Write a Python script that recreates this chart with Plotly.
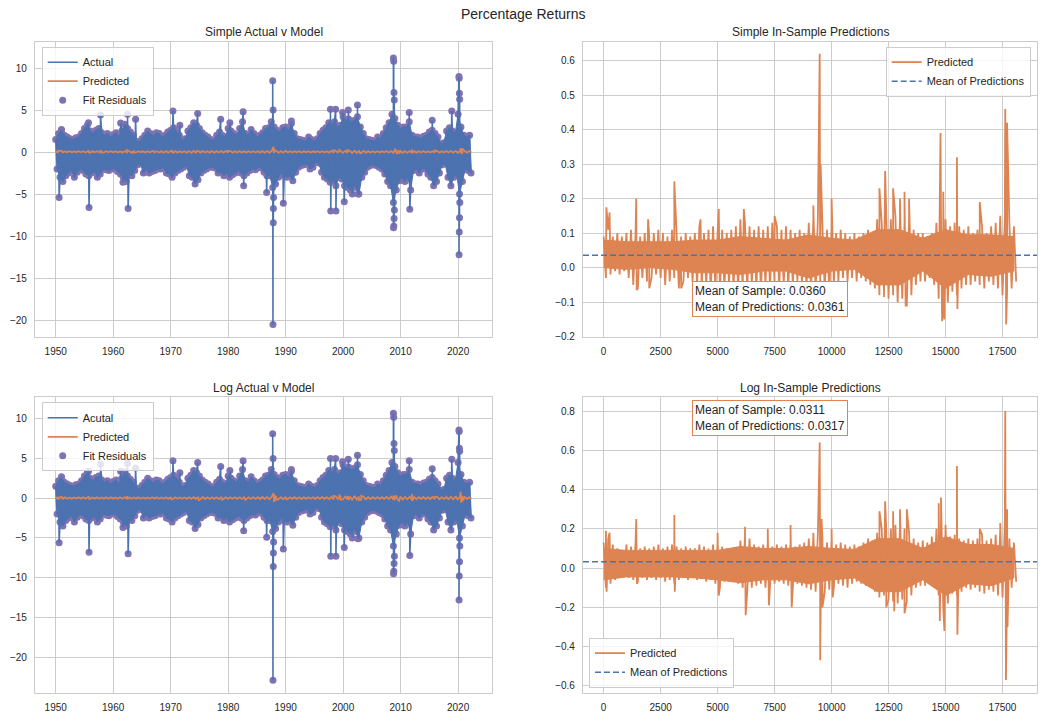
import plotly.graph_objects as go

BLUE = "#4c72b0"
ORANGE = "#dd8452"
PURPLE = "#8172b3"
TEXT = "#262626"
GRID = "#cccccc"
FONT = "Liberation Sans, Arial, sans-serif"

# ---------------- data: actual daily % returns (read envelope, every half year) ----------------
band_start_year = 1950.0
band_step = 0.5
band_hi = [1.5, 2.2, 2.6, 2.0, 1.8, 1.6, 1.5, 1.7, 1.8, 2.2,
           2.8, 3.2, 2.5, 2.2, 2.6, 2.8, 2.3, 2.0, 2.2, 1.8,
           2.1, 2.3, 1.8, 2.5, 3.3, 2.8, 2.4, 2.0, 1.3, 1.2,
           1.6, 2.0, 2.5, 2.2, 1.9, 2.3, 2.2, 1.8, 2.0, 2.4,
           2.6, 2.9, 2.5, 2.0, 1.4, 1.6, 2.5, 2.9, 3.5, 3.2,
           2.8, 2.3, 2.0, 1.8, 1.5, 1.4, 2.0, 2.4, 2.0, 1.8,
           2.8, 2.5, 2.2, 2.0, 2.8, 3.6, 2.2, 2.0, 2.7, 2.2,
           1.8, 2.0, 2.3, 2.8, 2.9, 3.6, 3.0, 2.6, 2.4, 2.9,
           3.0, 2.6, 3.4, 2.2, 1.6, 1.5, 1.4, 1.3, 1.8, 1.5,
           1.3, 1.6, 2.2, 2.6, 2.9, 3.5, 3.2, 3.6, 3.0, 3.2,
           4.2, 3.8, 3.9, 3.6, 3.8, 4.2, 3.0, 2.2, 1.6, 1.5,
           1.4, 1.3, 1.8, 1.6, 2.2, 2.9, 3.5, 4.5, 4.0, 3.2,
           2.8, 3.0, 3.0, 3.6, 2.0, 1.8, 1.8, 1.6, 1.9, 2.0,
           2.4, 2.6, 2.2, 1.8, 1.0, 1.1, 2.5, 2.9, 2.5, 2.2,
           4.5, 3.0, 2.0, 1.8, 2.0]
band_lo = [-2.0, -3.0, -3.5, -2.8, -2.5, -2.2, -3.0, -2.4, -2.0, -2.2,
           -2.6, -2.8, -2.5, -2.3, -3.0, -2.6, -2.0, -2.1, -2.2, -2.0,
           -2.0, -2.3, -2.6, -3.0, -3.5, -2.7, -2.8, -2.2, -1.5, -1.4,
           -2.5, -2.0, -2.5, -2.3, -2.2, -2.0, -2.0, -1.8, -2.5, -2.6,
           -3.0, -2.5, -2.2, -2.0, -1.8, -1.6, -2.8, -3.0, -3.8, -3.3,
           -2.5, -2.2, -2.0, -1.8, -1.8, -1.9, -2.5, -2.4, -2.8, -2.5,
           -3.0, -2.7, -2.5, -2.2, -2.5, -2.8, -2.5, -2.2, -2.0, -2.1,
           -1.8, -1.9, -2.4, -2.8, -2.8, -4.2, -3.8, -3.0, -2.5, -2.8,
           -3.0, -2.8, -3.4, -2.4, -1.8, -1.6, -1.5, -1.4, -2.0, -1.8,
           -1.2, -1.3, -2.4, -3.0, -3.2, -3.6, -3.4, -4.0, -3.0, -3.2,
           -4.0, -4.2, -4.5, -3.8, -4.2, -5.0, -3.0, -2.4, -1.8, -1.6,
           -1.5, -1.6, -1.8, -2.0, -2.6, -3.5, -4.0, -6.0, -4.5, -3.4,
           -3.0, -3.5, -3.0, -4.5, -2.2, -2.0, -2.5, -2.0, -2.0, -2.6,
           -3.0, -4.0, -3.5, -2.5, -1.5, -1.4, -3.0, -4.0, -3.0, -2.6,
           -5.0, -3.5, -2.0, -2.2, -2.5]

spike_years = [1950.6, 1951.0, 1955.7, 1955.8, 1957.8, 1961.3, 1961.7, 1962.5, 1962.6, 1963.9,
               1970.4, 1971.6, 1974.7, 1978.7, 1980.3, 1982.6, 1982.7, 1986.7, 1987.75, 1987.8,
               1987.82, 1987.85, 1987.87, 1987.9, 1989.6, 1991.0, 1997.8, 1997.85, 1998.7, 1998.75,
               1999.9, 2000.2, 2000.9, 2001.6, 2002.5, 2002.6, 2008.75, 2008.77, 2008.8, 2008.82,
               2008.85, 2008.87, 2008.9, 2008.92, 2011.5, 2011.6, 2015.5, 2018.9, 2020.15, 2020.17,
               2020.19, 2020.21, 2020.23, 2020.25, 2020.27, 2020.3]
spike_simple = [-5.4, 2.7, 3.5, -6.6, 4.4, 3.45, -3.6, 4.5, -6.7, 3.9,
                4.9, 3.2, 4.6, 3.9, 3.5, 4.8, -4.0, -4.8, 8.5, -20.5,
                5.0, -8.4, -6.7, -5.4, -6.1, 3.7, 5.1, -7.0, 5.1, -7.0,
                4.7, -5.9, 5.0, -5.0, 5.6, -5.0, 11.2, -9.0, 10.8, -8.8,
                7.1, -7.9, 6.2, -6.9, 4.7, -6.8, 3.8, 4.9, 9.0, -12.2,
                8.8, -9.5, 7.0, -7.8, 6.3, -6.0]
spike_log = [-5.6, 2.7, 3.4, -6.8, 4.3, 3.4, -3.7, 4.4, -7.0, 3.8,
             4.7, 3.2, 4.5, 4.0, 3.5, 4.7, -4.1, -4.9, 8.1, -22.9,
             5.0, -8.6, -6.9, -5.5, -6.4, 3.6, 5.0, -7.3, 5.0, -7.3,
             4.6, -6.2, 4.9, -5.0, 5.4, -5.1, 10.7, -9.5, 10.2, -9.2,
             6.9, -8.2, 6.0, -7.3, 4.7, -7.2, 3.7, 4.9, 8.6, -12.8,
             8.4, -9.8, 6.3, -8.0, 5.9, -6.0]

# ---------------- data: in-sample predictions (envelope every 200 obs) ----------------
pred_step = 200
pred_simple_hi = [0.09, 0.11, 0.09, 0.10, 0.09, 0.10, 0.11, 0.10, 0.09, 0.10,
                  0.09, 0.10, 0.11, 0.10, 0.09, 0.11, 0.10, 0.09, 0.10, 0.09,
                  0.10, 0.12, 0.10, 0.11, 0.12, 0.10, 0.11, 0.10, 0.11, 0.12,
                  0.14, 0.13, 0.12, 0.11, 0.12, 0.11, 0.12, 0.13, 0.12, 0.11,
                  0.12, 0.11, 0.10, 0.11, 0.10, 0.13, 0.14, 0.15, 0.12, 0.11,
                  0.12, 0.10, 0.11, 0.10, 0.09, 0.10, 0.09, 0.10, 0.11, 0.10,
                  0.14, 0.13, 0.15, 0.14, 0.15, 0.14, 0.13, 0.14, 0.11, 0.10,
                  0.10, 0.09, 0.10, 0.13, 0.15, 0.14, 0.12, 0.13, 0.12, 0.11,
                  0.12, 0.10, 0.11, 0.12, 0.10, 0.12, 0.13, 0.15, 0.14, 0.13,
                  0.12]
pred_simple_lo = [-0.03, -0.02, -0.01, -0.02, -0.01, -0.03, -0.05, -0.06, -0.03, -0.04,
                  -0.03, -0.02, -0.03, -0.05, -0.04, -0.03, -0.06, -0.04, -0.03, -0.04,
                  -0.05, -0.06, -0.05, -0.07, -0.06, -0.08, -0.06, -0.05, -0.06, -0.07,
                  -0.07, -0.06, -0.05, -0.06, -0.07, -0.05, -0.06, -0.05, -0.06, -0.05,
                  -0.06, -0.05, -0.04, -0.05, -0.06, -0.07, -0.08, -0.10, -0.07, -0.08,
                  -0.05, -0.04, -0.03, -0.04, -0.03, -0.04, -0.03, -0.04, -0.05, -0.06,
                  -0.08, -0.07, -0.09, -0.08, -0.10, -0.09, -0.11, -0.08, -0.05, -0.04,
                  -0.04, -0.03, -0.05, -0.09, -0.12, -0.10, -0.07, -0.08, -0.06, -0.05,
                  -0.05, -0.04, -0.05, -0.06, -0.04, -0.05, -0.06, -0.08, -0.07, -0.06,
                  -0.04]
pred_simple_spike_idx = [120, 260, 1430, 1450, 1950, 2000, 3100, 3400, 4250, 5050,
                         6150, 7500, 9200, 9480, 9520, 10000, 12100, 12300, 12350, 12700,
                         13000, 13200, 13250, 13400, 14780, 14850, 14900, 14950, 15500, 15520,
                         16500, 17620, 17660, 17700]
pred_simple_spike_val = [0.175, 0.16, 0.20, -0.065, 0.14, -0.06, 0.25, -0.06, 0.14, 0.17,
                         0.17, 0.15, 0.18, 0.62, 0.30, 0.20, 0.23, -0.085, 0.28, 0.23,
                         0.20, 0.22, -0.11, 0.20, 0.39, -0.155, 0.22, -0.15, 0.32, -0.12,
                         0.19, 0.46, -0.165, 0.42]

pred_log_hi = [0.13, 0.15, 0.12, 0.10, 0.09, 0.12, 0.11, 0.13, 0.10, 0.11,
               0.10, 0.11, 0.12, 0.10, 0.11, 0.12, 0.11, 0.10, 0.11, 0.10,
               0.10, 0.12, 0.11, 0.10, 0.12, 0.13, 0.11, 0.10, 0.09, 0.10,
               0.14, 0.16, 0.15, 0.12, 0.11, 0.12, 0.13, 0.11, 0.12, 0.11,
               0.12, 0.13, 0.11, 0.12, 0.13, 0.15, 0.16, 0.18, 0.15, 0.13,
               0.14, 0.12, 0.13, 0.12, 0.11, 0.12, 0.11, 0.13, 0.15, 0.14,
               0.18, 0.20, 0.19, 0.20, 0.22, 0.21, 0.20, 0.18, 0.15, 0.13,
               0.14, 0.13, 0.16, 0.20, 0.25, 0.22, 0.16, 0.17, 0.15, 0.14,
               0.15, 0.14, 0.15, 0.17, 0.14, 0.15, 0.17, 0.20, 0.22, 0.15,
               0.13]
pred_log_lo = [-0.10, -0.08, -0.06, -0.05, -0.04, -0.05, -0.06, -0.07, -0.05, -0.06,
               -0.05, -0.06, -0.05, -0.07, -0.06, -0.08, -0.06, -0.05, -0.06, -0.05,
               -0.06, -0.05, -0.07, -0.06, -0.08, -0.10, -0.07, -0.06, -0.07, -0.08,
               -0.10, -0.12, -0.10, -0.09, -0.08, -0.10, -0.09, -0.08, -0.07, -0.08,
               -0.09, -0.10, -0.08, -0.09, -0.10, -0.11, -0.12, -0.14, -0.12, -0.11,
               -0.10, -0.08, -0.09, -0.10, -0.08, -0.07, -0.08, -0.09, -0.10, -0.12,
               -0.15, -0.14, -0.16, -0.17, -0.18, -0.16, -0.17, -0.14, -0.10, -0.09,
               -0.09, -0.08, -0.10, -0.14, -0.20, -0.18, -0.13, -0.14, -0.12, -0.10,
               -0.11, -0.10, -0.12, -0.13, -0.11, -0.12, -0.14, -0.15, -0.13, -0.10,
               -0.07]
pred_log_spike_idx = [100, 130, 260, 1430, 1460, 3100, 3120, 5000, 5050, 6200,
                      6230, 7200, 7250, 8200, 8250, 9200, 9480, 9500, 9560, 9600,
                      10000, 10050, 12100, 12350, 12400, 12700, 12750, 13000, 13200, 13300,
                      14700, 14750, 14800, 14950, 15500, 15520, 16500, 17400, 17620, 17650,
                      17700, 17720]
pred_log_spike_val = [0.19, -0.12, 0.18, 0.25, -0.08, 0.27, -0.12, 0.18, -0.14, 0.21,
                      -0.24, 0.20, -0.19, 0.22, -0.20, 0.18, 0.64, -0.47, 0.25, -0.20,
                      0.20, -0.15, 0.29, 0.34, -0.20, 0.29, -0.22, 0.30, -0.23, 0.30,
                      0.33, -0.27, 0.36, -0.32, 0.52, -0.34, 0.20, 0.23, 0.80, -0.57,
                      0.30, -0.30]
# solid core of the prediction bands (every 1000 obs)
pred_core_step = 1000
pred_simple_core_hi = [0.08, 0.075, 0.075, 0.075, 0.08, 0.08, 0.09, 0.085, 0.08, 0.095,
                       0.085, 0.08, 0.11, 0.11, 0.085, 0.11, 0.095, 0.095, 0.09]
pred_simple_core_lo = [0.0, -0.005, 0.0, -0.005, -0.015, -0.015, -0.02, -0.01, -0.01, -0.03,
                       -0.01, -0.005, -0.05, -0.05, -0.01, -0.06, -0.02, -0.025, -0.01]
pred_log_core_hi = [0.10, 0.09, 0.09, 0.09, 0.09, 0.09, 0.11, 0.10, 0.10, 0.11,
                    0.10, 0.095, 0.15, 0.15, 0.10, 0.16, 0.12, 0.12, 0.10]
pred_log_core_lo = [-0.06, -0.045, -0.045, -0.045, -0.05, -0.06, -0.075, -0.06, -0.06, -0.08,
                    -0.06, -0.05, -0.12, -0.12, -0.06, -0.14, -0.08, -0.09, -0.05]

mean_sample_simple, mean_pred_simple = 0.0360, 0.0361
mean_sample_log, mean_pred_log = 0.0311, 0.0317
obs_per_year = 250.2

for a, b in [(band_hi, band_lo), (spike_years, spike_simple), (spike_years, spike_log),
             (pred_simple_hi, pred_simple_lo), (pred_log_hi, pred_log_lo),
             (pred_simple_core_hi, pred_simple_core_lo), (pred_log_core_hi, pred_log_core_lo),
             (pred_simple_spike_idx, pred_simple_spike_val), (pred_log_spike_idx, pred_log_spike_val)]:
    assert len(a) == len(b), (len(a), len(b))


def series(x0, step, hi, lo, sx, sy):
    """Daily-looking series: envelope highs/lows interleaved, plus the isolated spikes."""
    pts = []
    for k, (h, l) in enumerate(zip(hi, lo)):
        pts.append((x0 + k * step, h))
        pts.append((x0 + k * step + step / 2, l))
    pts += list(zip(sx, sy))
    pts.sort(key=lambda p: p[0])
    return [p[0] for p in pts], [p[1] for p in pts]


def envelope(x0, step, hi, lo, offset):
    """Closed polygon of the area that the many daily strokes cover."""
    xh = [x0 + k * step for k in range(len(hi))]
    xl = [x0 + k * step + offset for k in range(len(lo))]
    return xh + xl[::-1], list(hi) + list(lo)[::-1]


act_s_x, act_s_y = series(band_start_year, band_step, band_hi, band_lo, spike_years, spike_simple)
act_l_x, act_l_y = series(band_start_year, band_step, band_hi, band_lo, spike_years, spike_log)
env_a_x, env_a_y = envelope(band_start_year, band_step, band_hi, band_lo, band_step / 2)
ps_x, ps_y = series(0, pred_step, pred_simple_hi, pred_simple_lo, pred_simple_spike_idx, pred_simple_spike_val)
pl_x, pl_y = series(0, pred_step, pred_log_hi, pred_log_lo, pred_log_spike_idx, pred_log_spike_val)
core_ps_x, core_ps_y = envelope(0, pred_core_step, pred_simple_core_hi, pred_simple_core_lo, 0)
core_pl_x, core_pl_y = envelope(0, pred_core_step, pred_log_core_hi, pred_log_core_lo, 0)
ps_years = [band_start_year + i / obs_per_year for i in ps_x]
pl_years = [band_start_year + i / obs_per_year for i in pl_x]

# ---------------- figure ----------------
W, H = 1046, 720
def px_x(a, b):
    return [a / W, b / W]
def px_y(top, bottom):
    return [1 - bottom / H, 1 - top / H]

left_dom = px_x(35, 492)
right_dom = px_x(583, 1037.3)
top_dom = px_y(42, 337)
bot_dom = px_y(397.3, 693.3)

year_range = [1946.4, 2025.9]
idx_range = [-906, 19026]

def line(color, width, dash=None):
    d = dict(color=color, width=width, simplify=False)
    if dash:
        d["dash"] = dash
    return d

def band_fill(x, y, color, xa, ya):
    return go.Scatter(x=x, y=y, mode="lines", fill="toself", fillcolor=color,
                      line=dict(color=color, width=1), showlegend=False, hoverinfo="skip",
                      xaxis=xa, yaxis=ya)

fig = go.Figure()

# Top-left
fig.add_trace(go.Scatter(x=act_s_x, y=act_s_y, mode="markers", name="Fit Residuals",
                         marker=dict(color=PURPLE, size=7), xaxis="x", yaxis="y",
                         legend="legend", legendrank=3))
fig.add_trace(band_fill(env_a_x, env_a_y, BLUE, "x", "y"))
fig.add_trace(go.Scatter(x=act_s_x, y=act_s_y, mode="lines", name="Actual",
                         line=line(BLUE, 1.6), xaxis="x", yaxis="y",
                         legend="legend", legendrank=1))
fig.add_trace(go.Scatter(x=ps_years, y=ps_y, mode="lines", name="Predicted",
                         line=line(ORANGE, 1.8), xaxis="x", yaxis="y",
                         legend="legend", legendrank=2))
# Top-right
fig.add_trace(band_fill(core_ps_x, core_ps_y, ORANGE, "x2", "y2"))
fig.add_trace(go.Scatter(x=ps_x, y=ps_y, mode="lines", name="Predicted",
                         line=line(ORANGE, 1.8), xaxis="x2", yaxis="y2",
                         legend="legend2", legendrank=1))
fig.add_trace(go.Scatter(x=idx_range, y=[mean_pred_simple] * 2, mode="lines", name="Mean of Predictions",
                         line=line(BLUE, 1.5, "6px,3px"), xaxis="x2", yaxis="y2",
                         legend="legend2", legendrank=2))
# Bottom-left
fig.add_trace(go.Scatter(x=act_l_x, y=act_l_y, mode="markers", name="Fit Residuals",
                         marker=dict(color=PURPLE, size=7), xaxis="x3", yaxis="y3",
                         legend="legend3", legendrank=3))
fig.add_trace(band_fill(env_a_x, env_a_y, BLUE, "x3", "y3"))
fig.add_trace(go.Scatter(x=act_l_x, y=act_l_y, mode="lines", name="Acutal",
                         line=line(BLUE, 1.6), xaxis="x3", yaxis="y3",
                         legend="legend3", legendrank=1))
fig.add_trace(go.Scatter(x=pl_years, y=pl_y, mode="lines", name="Predicted",
                         line=line(ORANGE, 1.8), xaxis="x3", yaxis="y3",
                         legend="legend3", legendrank=2))
# Bottom-right
fig.add_trace(band_fill(core_pl_x, core_pl_y, ORANGE, "x4", "y4"))
fig.add_trace(go.Scatter(x=pl_x, y=pl_y, mode="lines", name="Predicted",
                         line=line(ORANGE, 1.8), xaxis="x4", yaxis="y4",
                         legend="legend4", legendrank=1))
fig.add_trace(go.Scatter(x=idx_range, y=[mean_pred_log] * 2, mode="lines", name="Mean of Predictions",
                         line=line(BLUE, 1.5, "6px,3px"), xaxis="x4", yaxis="y4",
                         legend="legend4", legendrank=2))

axis_common = dict(showgrid=True, gridcolor=GRID, gridwidth=1, showline=True, linecolor=GRID,
                   linewidth=1.25, mirror=True, zeroline=False, ticks="outside", ticklen=5,
                   tickcolor="rgba(0,0,0,0)", tickfont=dict(size=10, color=TEXT, family=FONT),
                   automargin=False)

fig.update_layout(
    width=W, height=H, margin=dict(l=0, r=0, t=0, b=0),
    paper_bgcolor="white", plot_bgcolor="white",
    font=dict(family=FONT, color=TEXT),
    xaxis=dict(domain=left_dom, anchor="y", range=year_range, tickvals=[1950, 1960, 1970, 1980, 1990, 2000, 2010, 2020], **axis_common),
    yaxis=dict(domain=top_dom, anchor="x", range=[-22.0, 13.1], tickvals=[-20, -15, -10, -5, 0, 5, 10], **axis_common),
    xaxis2=dict(domain=right_dom, anchor="y2", range=idx_range, dtick=2500, tickformat="d", **axis_common),
    yaxis2=dict(domain=top_dom, anchor="x2", range=[-0.201, 0.654], dtick=0.1, tickformat=".1f", **axis_common),
    xaxis3=dict(domain=left_dom, anchor="y3", range=year_range, tickvals=[1950, 1960, 1970, 1980, 1990, 2000, 2010, 2020], **axis_common),
    yaxis3=dict(domain=bot_dom, anchor="x3", range=[-24.55, 12.7], tickvals=[-20, -15, -10, -5, 0, 5, 10], **axis_common),
    xaxis4=dict(domain=right_dom, anchor="y4", range=idx_range, dtick=2500, tickformat="d", **axis_common),
    yaxis4=dict(domain=bot_dom, anchor="x4", range=[-0.638, 0.87], dtick=0.2, tickformat=".1f", **axis_common),
)

legend_style = dict(bgcolor="rgba(255,255,255,0.8)", bordercolor=GRID, borderwidth=1,
                    font=dict(size=11, color=TEXT, family=FONT), tracegroupgap=0)
fig.update_layout(
    legend=dict(x=41.7 / W, y=1 - 46.7 / H, xanchor="left", yanchor="top", **legend_style),
    legend2=dict(x=1030.7 / W, y=1 - 46.7 / H, xanchor="right", yanchor="top", **legend_style),
    legend3=dict(x=41.7 / W, y=1 - 402.3 / H, xanchor="left", yanchor="top", **legend_style),
    legend4=dict(x=589 / W, y=1 - 687.7 / H, xanchor="left", yanchor="bottom", **legend_style),
)

titles = [("Percentage Returns", 0.5, 1 - 14 / H, 14),
          ("Simple Actual v Model", (35 + 492) / 2 / W, 1 - 32 / H, 12),
          ("Simple In-Sample Predictions", (583 + 1037.3) / 2 / W, 1 - 32 / H, 12),
          ("Log Actual v Model", (35 + 492) / 2 / W, 1 - 388 / H, 12),
          ("Log In-Sample Predictions", (583 + 1037.3) / 2 / W, 1 - 388 / H, 12)]
for text, x, y, size in titles:
    fig.add_annotation(text=text, x=x, y=y, xref="paper", yref="paper", xanchor="center",
                       yanchor="middle", showarrow=False, font=dict(size=size, color=TEXT, family=FONT))

fig.add_annotation(text=f"Mean of Sample: {mean_sample_simple:.4f}<br>Mean of Predictions: {mean_pred_simple:.4f}",
                   x=3880, y=-0.0907, xref="x2", yref="y2", xanchor="left", yanchor="middle",
                   align="left", showarrow=False, bgcolor="white", bordercolor=ORANGE, borderwidth=1,
                   borderpad=2, font=dict(size=12, color=TEXT, family=FONT))
fig.add_annotation(text=f"Mean of Sample: {mean_sample_log:.4f}<br>Mean of Predictions: {mean_pred_log:.4f}",
                   x=3880, y=0.765, xref="x4", yref="y4", xanchor="left", yanchor="middle",
                   align="left", showarrow=False, bgcolor="white", bordercolor=ORANGE, borderwidth=1,
                   borderpad=2, font=dict(size=12, color=TEXT, family=FONT))

fig.write_html("out.html")
